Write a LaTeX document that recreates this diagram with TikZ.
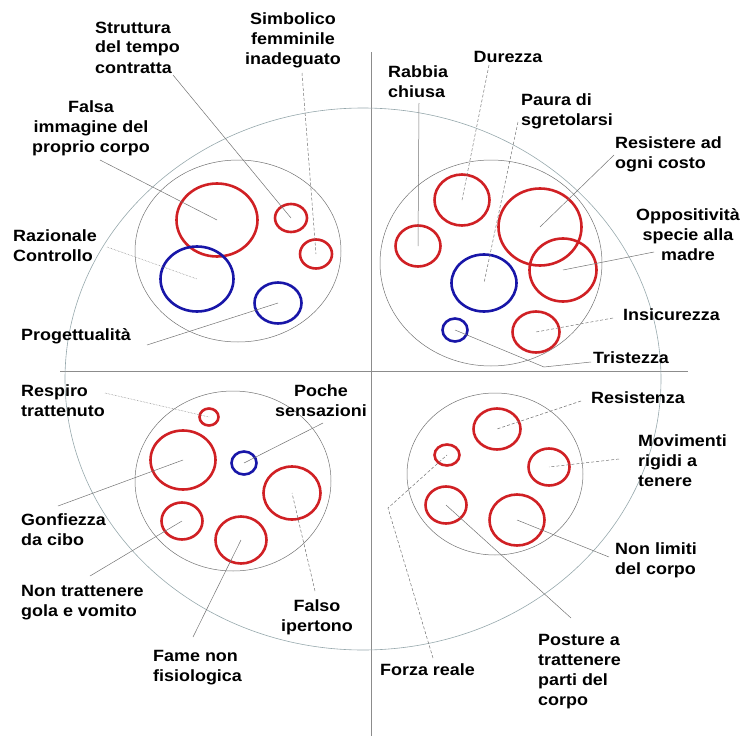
\documentclass[tikz,border=0pt]{standalone}
\usepackage{fontspec}
\setmainfont{Liberation Sans}[FakeStretch=1.1]
\usetikzlibrary{shapes.geometric}
\definecolor{rosso}{RGB}{208,32,36}
\definecolor{blu}{RGB}{24,22,168}
\definecolor{cielo}{RGB}{150,168,172}
\newcommand\lblfont{\fontsize{16.3}{20}\selectfont\bfseries}

\begin{document}
\begin{tikzpicture}[x=1pt,y=-1pt,
 rosso/.style={ellipse,draw=rosso,line width=2.6pt,inner sep=0pt},
 blu/.style={ellipse,draw=blu,line width=2.6pt,inner sep=0pt},
 lbl/.style={font=\lblfont,inner sep=0pt,align=left,anchor=base west},
 lblc/.style={font=\lblfont,inner sep=0pt,align=center,anchor=base},
 leader/.style={black!55,line width=0.5pt}]
 \useasboundingbox (0,0) rectangle (742,736);
 % axes and groups
 \draw[black!45,line width=0.8pt] (60,371)--(688,371);
 \draw[black!45,line width=0.8pt] (371,52)--(371,736);
 \draw[cielo,line width=0.6pt] (363,379) ellipse (298 and 271);
 \draw[black!55,line width=0.5pt] (238,251) ellipse (103 and 91);
 \draw[black!55,line width=0.5pt] (491,263) ellipse (111 and 103);
 \draw[black!55,line width=0.5pt] (233,481) ellipse (98 and 90);
 \draw[black!55,line width=0.5pt] (495,474) ellipse (88 and 81);
 % top left
 \node[rosso,minimum width=81,minimum height=73] (falsa) at (217,220) {};
 \node[rosso,minimum width=32,minimum height=28] (struttura) at (291,218) {};
 \node[rosso,minimum width=32,minimum height=29] (simbolico) at (316,254) {};
 \node[blu,minimum width=73,minimum height=65] (razion) at (197,279) {};
 \node[blu,minimum width=47,minimum height=41] (progett) at (278,303) {};
 % top right
 \node[rosso,minimum width=55,minimum height=51] (durezza) at (462,200) {};
 \node[rosso,minimum width=45,minimum height=41] (rabbia) at (418,246) {};
 \node[rosso,minimum width=83,minimum height=77] (resist) at (540,227) {};
 \node[rosso,minimum width=67,minimum height=63] (opposit) at (563,270) {};
 \node[blu,minimum width=65,minimum height=57] (paura) at (484,283) {};
 \node[rosso,minimum width=47,minimum height=41] (insic) at (536,332) {};
 \node[blu,minimum width=25,minimum height=23] (trist) at (455,330) {};
 % bottom left
 \node[rosso,minimum width=19,minimum height=17] (respiro) at (209,417) {};
 \node[rosso,minimum width=65,minimum height=59] (gonf) at (183,460) {};
 \node[blu,minimum width=25,minimum height=23] (poche) at (244,463) {};
 \node[rosso,minimum width=57,minimum height=53] (falso) at (292,493) {};
 \node[rosso,minimum width=41,minimum height=37] (nontratt) at (182,521) {};
 \node[rosso,minimum width=51,minimum height=47] (fame) at (241,540) {};
 % bottom right
 \node[rosso,minimum width=47,minimum height=41] (resistenza) at (497,429) {};
 \node[rosso,minimum width=25,minimum height=21] (forza) at (447,455) {};
 \node[rosso,minimum width=41,minimum height=37] (movim) at (549,467) {};
 \node[rosso,minimum width=41,minimum height=37] (posture) at (446,505) {};
 \node[rosso,minimum width=55,minimum height=51] (nonlim) at (517,520) {};

 % labels (base = last line)
 \node[lbl] (lStr) at (95,73) {Struttura\\del tempo\\contratta};
 \node[lblc] (lSim) at (293,64) {Simbolico\\femminile\\inadeguato};
 \node[lblc] (lFal) at (91,152) {Falsa\\immagine del\\proprio corpo};
 \node[lbl] (lRaz) at (13,261) {Razionale\\Controllo};
 \node[lbl] (lPro) at (21,340) {Progettualità};
 \node[lbl] (lRab) at (388,97) {Rabbia\\chiusa};
 \node[lblc] (lDur) at (508,62) {Durezza};
 \node[lbl] (lPau) at (521,125) {Paura di\\sgretolarsi};
 \node[lbl] (lRes) at (615,168) {Resistere ad\\ogni costo};
 \node[lblc] (lOpp) at (688,260) {Oppositività\\specie alla\\madre};
 \node[lbl] (lIns) at (623,320) {Insicurezza};
 \node[lbl] (lTri) at (593,363) {Tristezza};
 \node[lbl] (lRsp) at (21,416) {Respiro\\trattenuto};
 \node[lblc] (lPoc) at (321,416) {Poche\\sensazioni};
 \node[lbl] (lGon) at (21,545) {Gonfiezza\\da cibo};
 \node[lbl] (lNon) at (21,616) {Non trattenere\\gola e vomito};
 \node[lblc] (lFso) at (317,631) {Falso\\ipertono};
 \node[lbl] (lFam) at (153,681) {Fame non\\fisiologica};
 \node[lbl] (lRza) at (591,403) {Resistenza};
 \node[lbl] (lMov) at (638,486) {Movimenti\\rigidi a\\tenere};
 \node[lbl] (lLim) at (615,574) {Non limiti\\del corpo};
 \node[lbl] (lPos) at (538,705) {Posture a\\trattenere\\parti del\\corpo};
 \node[lbl] (lFor) at (380,675) {Forza reale};

 % leader ends
 \coordinate (pStr) at (173,75);
 \coordinate (pSim) at (302,73);
 \coordinate (pFal) at (100,160);
 \coordinate (pRaz) at (107,247);
 \coordinate (pPro) at (147,345);
 \coordinate (pRab) at (419,103);
 \coordinate (pDur) at (489,65);
 \coordinate (pPau) at (518,122);
 \coordinate (pRes) at (614,155);
 \coordinate (pOpp) at (654,252);
 \coordinate (pIns) at (613,318);
 \coordinate (pTri) at (591,362);
 \coordinate (kTri) at (544,367);
 \coordinate (pRsp) at (105,393);
 \coordinate (pPoc) at (323,423);
 \coordinate (pGon) at (58,506);
 \coordinate (pNon) at (90,576);
 \coordinate (pFso) at (315,591);
 \coordinate (pFam) at (193,637);
 \coordinate (pRza) at (581,401);
 \coordinate (pMov) at (619,459);
 \coordinate (pLim) at (609,557);
 \coordinate (pPos) at (571,618);
 \coordinate (pFor) at (433,658);
 \coordinate (kFor) at (388,508);

 % leaders
 \draw[leader] (pStr)--(struttura.center);
 \draw[leader,densely dashed] (pSim)--(simbolico.center);
 \draw[leader] (pFal)--(falsa.center);
 \draw[leader,densely dotted] (pRaz)--(razion.center);
 \draw[leader] (pPro)--(progett.center);
 \draw[leader] (pRab)--(rabbia.center);
 \draw[leader,densely dashed] (pDur)--(durezza.center);
 \draw[leader,densely dashed] (pPau)--(paura.center);
 \draw[leader] (pRes)--(resist.center);
 \draw[leader] (pOpp)--(opposit.center);
 \draw[leader,densely dashed] (pIns)--(insic.center);
 \draw[leader] (pTri)--(kTri)--(trist.center);
 \draw[leader,densely dotted] (pRsp)--(respiro.center);
 \draw[leader] (pPoc)--(poche.center);
 \draw[leader] (pGon)--(gonf.center);
 \draw[leader] (pNon)--(nontratt.center);
 \draw[leader,densely dashed] (pFso)--(falso.center);
 \draw[leader] (pFam)--(fame.center);
 \draw[leader,densely dashed] (pRza)--(resistenza.center);
 \draw[leader,densely dashed] (pMov)--(movim.center);
 \draw[leader] (pLim)--(nonlim.center);
 \draw[leader] (pPos)--(posture.center);
 \draw[leader,densely dashed] (pFor)--(kFor)--(forza.center);
\end{tikzpicture}
\end{document}
